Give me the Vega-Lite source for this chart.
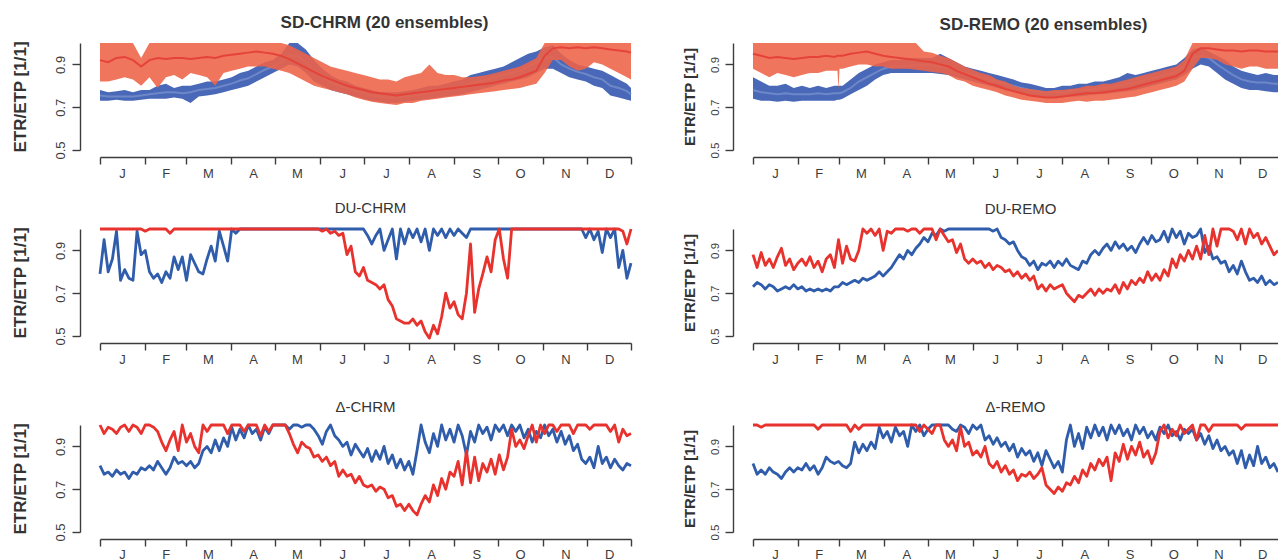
{
"$schema": "https://vega.github.io/schema/vega-lite/v6.json",
"background": "white",
"padding": {"left": 11, "top": 13, "right": 0, "bottom": 0},
"config": {
  "font": "Liberation Sans",
  "view": {"stroke": null},
  "title": {"font": "Liberation Sans", "color": "#333333", "baseline": "alphabetic", "anchor": "middle"},
  "axis": {"grid": false, "domainColor": "#3c3c3c", "tickColor": "#3c3c3c", "labelColor": "#3c3c3c", "titleColor": "#333333", "domainWidth": 1.4, "tickWidth": 1.4, "labelFont": "Liberation Sans", "titleFont": "Liberation Sans"},
  "axisX": {"offset": 7, "tickSize": 7, "labelPadding": 3, "labelFontSize": 13, "labelOverlap": false, "labelFlush": false, "labelBound": false, "labelAngle": 0},
  "axisY": {"offset": 20, "tickSize": 8, "labelAngle": -90, "labelAlign": "center", "labelBaseline": "bottom", "labelPadding": 5, "labelFontSize": 13, "titleFontSize": 17, "titleFontWeight": "bold", "titlePadding": 25, "labelOverlap": false}
},
"datasets": {
"tl": [
{"d":1,"bl":0.73,"bh":0.78,"bm":0.755,"rl":0.82,"rh":1,"rm":0.92},
{"d":6.6,"bl":0.73,"bh":0.77,"bm":0.75,"rl":0.82,"rh":1,"rm":0.91},
{"d":12.3,"bl":0.735,"bh":0.775,"bm":0.75,"rl":0.83,"rh":1,"rm":0.93},
{"d":17.9,"bl":0.73,"bh":0.78,"bm":0.75,"rl":0.84,"rh":1,"rm":0.935},
{"d":23.6,"bl":0.73,"bh":0.77,"bm":0.75,"rl":0.83,"rh":1,"rm":0.92},
{"d":29.2,"bl":0.735,"bh":0.78,"bm":0.755,"rl":0.8,"rh":0.93,"rm":0.89},
{"d":34.9,"bl":0.74,"bh":0.78,"bm":0.76,"rl":0.84,"rh":1,"rm":0.92},
{"d":40.5,"bl":0.74,"bh":0.8,"bm":0.765,"rl":0.79,"rh":1,"rm":0.93},
{"d":46.2,"bl":0.74,"bh":0.81,"bm":0.77,"rl":0.84,"rh":1,"rm":0.925},
{"d":51.8,"bl":0.745,"bh":0.79,"bm":0.77,"rl":0.85,"rh":1,"rm":0.93},
{"d":57.4,"bl":0.74,"bh":0.8,"bm":0.765,"rl":0.83,"rh":1,"rm":0.93},
{"d":63.1,"bl":0.72,"bh":0.8,"bm":0.77,"rl":0.86,"rh":1,"rm":0.925},
{"d":68.7,"bl":0.75,"bh":0.81,"bm":0.78,"rl":0.85,"rh":1,"rm":0.93},
{"d":74.4,"bl":0.755,"bh":0.82,"bm":0.785,"rl":0.84,"rh":1,"rm":0.935},
{"d":80,"bl":0.76,"bh":0.82,"bm":0.79,"rl":0.8,"rh":1,"rm":0.93},
{"d":85.7,"bl":0.77,"bh":0.83,"bm":0.8,"rl":0.86,"rh":1,"rm":0.94},
{"d":91.3,"bl":0.78,"bh":0.84,"bm":0.81,"rl":0.87,"rh":1,"rm":0.945},
{"d":96.9,"bl":0.79,"bh":0.86,"bm":0.825,"rl":0.88,"rh":1,"rm":0.95},
{"d":102.6,"bl":0.8,"bh":0.87,"bm":0.835,"rl":0.89,"rh":1,"rm":0.955},
{"d":108.2,"bl":0.82,"bh":0.89,"bm":0.855,"rl":0.89,"rh":1,"rm":0.96},
{"d":113.9,"bl":0.84,"bh":0.91,"bm":0.875,"rl":0.89,"rh":1,"rm":0.955},
{"d":119.5,"bl":0.86,"bh":0.92,"bm":0.89,"rl":0.88,"rh":1,"rm":0.95},
{"d":125.2,"bl":0.88,"bh":0.95,"bm":0.91,"rl":0.87,"rh":1,"rm":0.94},
{"d":130.8,"bl":0.9,"bh":1,"bm":0.94,"rl":0.86,"rh":0.99,"rm":0.925},
{"d":136.5,"bl":0.89,"bh":1,"bm":0.94,"rl":0.84,"rh":0.97,"rm":0.905},
{"d":142.1,"bl":0.86,"bh":0.97,"bm":0.91,"rl":0.82,"rh":0.95,"rm":0.885},
{"d":147.7,"bl":0.82,"bh":0.92,"bm":0.87,"rl":0.8,"rh":0.93,"rm":0.865},
{"d":153.4,"bl":0.8,"bh":0.88,"bm":0.84,"rl":0.79,"rh":0.91,"rm":0.845},
{"d":159,"bl":0.78,"bh":0.85,"bm":0.815,"rl":0.78,"rh":0.89,"rm":0.83},
{"d":164.7,"bl":0.77,"bh":0.83,"bm":0.8,"rl":0.77,"rh":0.88,"rm":0.815},
{"d":170.3,"bl":0.76,"bh":0.82,"bm":0.79,"rl":0.76,"rh":0.87,"rm":0.8},
{"d":176,"bl":0.75,"bh":0.8,"bm":0.775,"rl":0.745,"rh":0.86,"rm":0.79},
{"d":181.6,"bl":0.74,"bh":0.79,"bm":0.765,"rl":0.735,"rh":0.85,"rm":0.78},
{"d":187.3,"bl":0.73,"bh":0.78,"bm":0.755,"rl":0.725,"rh":0.84,"rm":0.77},
{"d":192.9,"bl":0.725,"bh":0.77,"bm":0.75,"rl":0.72,"rh":0.83,"rm":0.765},
{"d":198.5,"bl":0.72,"bh":0.77,"bm":0.745,"rl":0.715,"rh":0.83,"rm":0.76},
{"d":204.2,"bl":0.72,"bh":0.77,"bm":0.745,"rl":0.71,"rh":0.82,"rm":0.755},
{"d":209.8,"bl":0.725,"bh":0.775,"bm":0.75,"rl":0.72,"rh":0.84,"rm":0.76},
{"d":215.5,"bl":0.73,"bh":0.78,"bm":0.755,"rl":0.72,"rh":0.85,"rm":0.765},
{"d":221.1,"bl":0.735,"bh":0.79,"bm":0.76,"rl":0.73,"rh":0.86,"rm":0.77},
{"d":226.8,"bl":0.74,"bh":0.8,"bm":0.77,"rl":0.735,"rh":0.9,"rm":0.775},
{"d":232.4,"bl":0.745,"bh":0.8,"bm":0.775,"rl":0.74,"rh":0.86,"rm":0.78},
{"d":238,"bl":0.75,"bh":0.81,"bm":0.78,"rl":0.745,"rh":0.85,"rm":0.785},
{"d":243.7,"bl":0.755,"bh":0.82,"bm":0.79,"rl":0.75,"rh":0.85,"rm":0.79},
{"d":249.3,"bl":0.76,"bh":0.83,"bm":0.795,"rl":0.755,"rh":0.84,"rm":0.795},
{"d":255,"bl":0.77,"bh":0.85,"bm":0.81,"rl":0.76,"rh":0.84,"rm":0.8},
{"d":260.6,"bl":0.78,"bh":0.86,"bm":0.82,"rl":0.765,"rh":0.845,"rm":0.805},
{"d":266.3,"bl":0.79,"bh":0.87,"bm":0.83,"rl":0.77,"rh":0.85,"rm":0.81},
{"d":271.9,"bl":0.8,"bh":0.88,"bm":0.84,"rl":0.775,"rh":0.86,"rm":0.815},
{"d":277.6,"bl":0.81,"bh":0.89,"bm":0.85,"rl":0.78,"rh":0.87,"rm":0.825},
{"d":283.2,"bl":0.82,"bh":0.91,"bm":0.86,"rl":0.785,"rh":0.88,"rm":0.83},
{"d":288.8,"bl":0.83,"bh":0.93,"bm":0.87,"rl":0.79,"rh":0.89,"rm":0.84},
{"d":294.5,"bl":0.84,"bh":0.95,"bm":0.89,"rl":0.8,"rh":0.91,"rm":0.855},
{"d":300.1,"bl":0.86,"bh":0.96,"bm":0.91,"rl":0.81,"rh":0.93,"rm":0.87},
{"d":305.8,"bl":0.88,"bh":0.98,"bm":0.93,"rl":0.86,"rh":1,"rm":0.94},
{"d":311.4,"bl":0.88,"bh":0.99,"bm":0.935,"rl":0.92,"rh":1,"rm":0.975},
{"d":317.1,"bl":0.86,"bh":0.95,"bm":0.9,"rl":0.92,"rh":1,"rm":0.98},
{"d":322.7,"bl":0.84,"bh":0.92,"bm":0.88,"rl":0.89,"rh":1,"rm":0.975},
{"d":328.4,"bl":0.83,"bh":0.9,"bm":0.865,"rl":0.87,"rh":1,"rm":0.98},
{"d":334,"bl":0.82,"bh":0.89,"bm":0.855,"rl":0.88,"rh":1,"rm":0.975},
{"d":339.6,"bl":0.8,"bh":0.88,"bm":0.84,"rl":0.91,"rh":1,"rm":0.98},
{"d":345.3,"bl":0.79,"bh":0.87,"bm":0.83,"rl":0.9,"rh":1,"rm":0.975},
{"d":350.9,"bl":0.755,"bh":0.85,"bm":0.8,"rl":0.88,"rh":1,"rm":0.97},
{"d":356.6,"bl":0.745,"bh":0.83,"bm":0.79,"rl":0.86,"rh":1,"rm":0.965},
{"d":362.2,"bl":0.735,"bh":0.81,"bm":0.775,"rl":0.84,"rh":1,"rm":0.96},
{"d":365,"bl":0.73,"bh":0.79,"bm":0.76,"rl":0.83,"rh":1,"rm":0.955}
],
"tr": [
{"d":1,"bl":0.74,"bh":0.84,"bm":0.78,"rl":0.88,"rh":1,"rm":0.95},
{"d":6.6,"bl":0.73,"bh":0.82,"bm":0.77,"rl":0.86,"rh":1,"rm":0.94},
{"d":12.2,"bl":0.73,"bh":0.8,"bm":0.765,"rl":0.84,"rh":1,"rm":0.93},
{"d":17.7,"bl":0.725,"bh":0.8,"bm":0.76,"rl":0.86,"rh":1,"rm":0.935},
{"d":23.3,"bl":0.73,"bh":0.81,"bm":0.765,"rl":0.85,"rh":1,"rm":0.93},
{"d":28.9,"bl":0.725,"bh":0.79,"bm":0.76,"rl":0.84,"rh":1,"rm":0.925},
{"d":34.5,"bl":0.73,"bh":0.8,"bm":0.76,"rl":0.85,"rh":1,"rm":0.93},
{"d":40,"bl":0.73,"bh":0.79,"bm":0.76,"rl":0.86,"rh":1,"rm":0.935},
{"d":45.6,"bl":0.73,"bh":0.8,"bm":0.765,"rl":0.86,"rh":1,"rm":0.935},
{"d":51.2,"bl":0.73,"bh":0.79,"bm":0.76,"rl":0.87,"rh":1,"rm":0.94},
{"d":56.8,"bl":0.73,"bh":0.8,"bm":0.765,"rl":0.87,"rh":1,"rm":0.935},
{"d":58.9,"bl":0.735,"bh":0.8,"bm":0.765,"rl":0.87,"rh":1,"rm":0.94},
{"d":59.6,"bl":0.735,"bh":0.8,"bm":0.765,"rl":0.78,"rh":1,"rm":0.94},
{"d":60.3,"bl":0.735,"bh":0.8,"bm":0.765,"rl":0.88,"rh":1,"rm":0.94},
{"d":62.4,"bl":0.74,"bh":0.8,"bm":0.77,"rl":0.88,"rh":1,"rm":0.94},
{"d":67.9,"bl":0.76,"bh":0.83,"bm":0.79,"rl":0.89,"rh":1,"rm":0.95},
{"d":73.5,"bl":0.78,"bh":0.86,"bm":0.82,"rl":0.9,"rh":1,"rm":0.955},
{"d":79.1,"bl":0.8,"bh":0.88,"bm":0.84,"rl":0.9,"rh":1,"rm":0.96},
{"d":84.7,"bl":0.83,"bh":0.9,"bm":0.86,"rl":0.89,"rh":1,"rm":0.95},
{"d":90.2,"bl":0.85,"bh":0.91,"bm":0.88,"rl":0.89,"rh":1,"rm":0.94},
{"d":95.8,"bl":0.86,"bh":0.92,"bm":0.89,"rl":0.88,"rh":1,"rm":0.935},
{"d":101.4,"bl":0.86,"bh":0.92,"bm":0.89,"rl":0.88,"rh":1,"rm":0.93},
{"d":107,"bl":0.86,"bh":0.93,"bm":0.895,"rl":0.88,"rh":1,"rm":0.925},
{"d":112.6,"bl":0.86,"bh":0.93,"bm":0.895,"rl":0.875,"rh":1,"rm":0.92},
{"d":118.1,"bl":0.86,"bh":0.93,"bm":0.9,"rl":0.87,"rh":0.96,"rm":0.915},
{"d":123.7,"bl":0.86,"bh":0.93,"bm":0.895,"rl":0.865,"rh":0.955,"rm":0.91},
{"d":129.3,"bl":0.855,"bh":0.95,"bm":0.89,"rl":0.86,"rh":0.94,"rm":0.9},
{"d":134.9,"bl":0.85,"bh":0.93,"bm":0.885,"rl":0.85,"rh":0.93,"rm":0.89},
{"d":140.5,"bl":0.84,"bh":0.91,"bm":0.87,"rl":0.83,"rh":0.91,"rm":0.87},
{"d":146,"bl":0.83,"bh":0.89,"bm":0.86,"rl":0.82,"rh":0.89,"rm":0.855},
{"d":151.6,"bl":0.82,"bh":0.88,"bm":0.85,"rl":0.8,"rh":0.875,"rm":0.84},
{"d":157.2,"bl":0.81,"bh":0.87,"bm":0.84,"rl":0.79,"rh":0.86,"rm":0.825},
{"d":162.8,"bl":0.8,"bh":0.86,"bm":0.83,"rl":0.78,"rh":0.85,"rm":0.81},
{"d":168.3,"bl":0.79,"bh":0.85,"bm":0.82,"rl":0.77,"rh":0.83,"rm":0.8},
{"d":173.9,"bl":0.78,"bh":0.84,"bm":0.81,"rl":0.755,"rh":0.82,"rm":0.785},
{"d":179.5,"bl":0.77,"bh":0.83,"bm":0.8,"rl":0.745,"rh":0.8,"rm":0.775},
{"d":185.1,"bl":0.76,"bh":0.815,"bm":0.79,"rl":0.735,"rh":0.79,"rm":0.765},
{"d":190.7,"bl":0.755,"bh":0.81,"bm":0.78,"rl":0.73,"rh":0.785,"rm":0.755},
{"d":196.2,"bl":0.75,"bh":0.8,"bm":0.775,"rl":0.725,"rh":0.78,"rm":0.75},
{"d":201.8,"bl":0.745,"bh":0.79,"bm":0.77,"rl":0.72,"rh":0.775,"rm":0.745},
{"d":207.4,"bl":0.745,"bh":0.79,"bm":0.77,"rl":0.72,"rh":0.78,"rm":0.745},
{"d":213,"bl":0.745,"bh":0.8,"bm":0.77,"rl":0.72,"rh":0.78,"rm":0.75},
{"d":218.5,"bl":0.75,"bh":0.8,"bm":0.775,"rl":0.725,"rh":0.785,"rm":0.755},
{"d":224.1,"bl":0.75,"bh":0.81,"bm":0.78,"rl":0.73,"rh":0.79,"rm":0.76},
{"d":229.7,"bl":0.755,"bh":0.81,"bm":0.78,"rl":0.725,"rh":0.8,"rm":0.765},
{"d":235.3,"bl":0.76,"bh":0.82,"bm":0.785,"rl":0.73,"rh":0.8,"rm":0.765},
{"d":240.9,"bl":0.76,"bh":0.82,"bm":0.79,"rl":0.73,"rh":0.81,"rm":0.77},
{"d":246.4,"bl":0.765,"bh":0.83,"bm":0.795,"rl":0.735,"rh":0.81,"rm":0.775},
{"d":252,"bl":0.77,"bh":0.84,"bm":0.8,"rl":0.74,"rh":0.82,"rm":0.78},
{"d":257.6,"bl":0.775,"bh":0.86,"bm":0.81,"rl":0.745,"rh":0.83,"rm":0.785},
{"d":263.2,"bl":0.78,"bh":0.85,"bm":0.815,"rl":0.75,"rh":0.84,"rm":0.795},
{"d":268.7,"bl":0.79,"bh":0.86,"bm":0.825,"rl":0.76,"rh":0.85,"rm":0.805},
{"d":274.3,"bl":0.8,"bh":0.87,"bm":0.835,"rl":0.77,"rh":0.86,"rm":0.815},
{"d":279.9,"bl":0.81,"bh":0.88,"bm":0.845,"rl":0.78,"rh":0.87,"rm":0.825},
{"d":285.5,"bl":0.82,"bh":0.89,"bm":0.855,"rl":0.79,"rh":0.88,"rm":0.835},
{"d":291.1,"bl":0.83,"bh":0.9,"bm":0.865,"rl":0.8,"rh":0.89,"rm":0.845},
{"d":296.6,"bl":0.85,"bh":0.93,"bm":0.89,"rl":0.82,"rh":0.92,"rm":0.87},
{"d":302.2,"bl":0.88,"bh":0.97,"bm":0.93,"rl":0.88,"rh":1,"rm":0.95},
{"d":307.8,"bl":0.9,"bh":0.98,"bm":0.94,"rl":0.93,"rh":1,"rm":0.975},
{"d":313.4,"bl":0.89,"bh":0.96,"bm":0.93,"rl":0.93,"rh":1,"rm":0.975},
{"d":319,"bl":0.86,"bh":0.94,"bm":0.9,"rl":0.92,"rh":1,"rm":0.97},
{"d":324.5,"bl":0.83,"bh":0.92,"bm":0.875,"rl":0.9,"rh":1,"rm":0.965},
{"d":330.1,"bl":0.81,"bh":0.89,"bm":0.85,"rl":0.89,"rh":1,"rm":0.965},
{"d":335.7,"bl":0.79,"bh":0.87,"bm":0.83,"rl":0.88,"rh":1,"rm":0.96},
{"d":341.3,"bl":0.78,"bh":0.86,"bm":0.82,"rl":0.89,"rh":1,"rm":0.965},
{"d":346.8,"bl":0.78,"bh":0.85,"bm":0.815,"rl":0.89,"rh":1,"rm":0.965},
{"d":352.4,"bl":0.775,"bh":0.86,"bm":0.815,"rl":0.88,"rh":1,"rm":0.96},
{"d":358,"bl":0.77,"bh":0.85,"bm":0.81,"rl":0.88,"rh":1,"rm":0.96},
{"d":360.8,"bl":0.77,"bh":0.85,"bm":0.81,"rl":0.88,"rh":1,"rm":0.96}
],
"ml": [
{"d":1,"b":0.79,"r":1},{"d":3.8,"b":0.95,"r":1},{"d":6.6,"b":0.8,"r":1},{"d":9.5,"b":0.86,"r":1},{"d":12.3,"b":0.99,"r":1},
{"d":15.1,"b":0.76,"r":1},{"d":17.9,"b":0.81,"r":1},{"d":20.8,"b":0.77,"r":1},{"d":23.6,"b":0.76,"r":1},{"d":26.4,"b":0.99,"r":1},
{"d":29.2,"b":0.88,"r":1},{"d":32,"b":0.9,"r":0.99},{"d":34.9,"b":0.8,"r":1},{"d":37.7,"b":0.77,"r":1},{"d":40.5,"b":0.79,"r":1},
{"d":43.3,"b":0.75,"r":1},{"d":46.2,"b":0.8,"r":1},{"d":49,"b":0.77,"r":0.98},{"d":51.8,"b":0.87,"r":1},{"d":54.6,"b":0.81,"r":1},
{"d":57.4,"b":0.87,"r":1},{"d":60.3,"b":0.76,"r":1},{"d":63.1,"b":0.88,"r":1},{"d":65.9,"b":0.84,"r":1},{"d":68.7,"b":0.8,"r":1},
{"d":71.6,"b":0.79,"r":1},{"d":74.4,"b":0.86,"r":1},{"d":77.2,"b":0.92,"r":1},{"d":80,"b":0.85,"r":1},{"d":82.8,"b":0.99,"r":1},
{"d":85.7,"b":0.92,"r":1},{"d":88.5,"b":0.85,"r":1},{"d":91.3,"b":1,"r":1},{"d":94.1,"b":0.98,"r":1},{"d":96.9,"b":1,"r":1},
{"d":125.2,"b":1,"r":1},{"d":150.6,"b":1,"r":1},
{"d":153.4,"b":1,"r":0.99},{"d":156.2,"b":1,"r":1},{"d":159,"b":1,"r":0.98},{"d":161.9,"b":1,"r":0.99},{"d":164.7,"b":1,"r":0.97},
{"d":167.5,"b":1,"r":0.98},{"d":170.3,"b":1,"r":0.88},{"d":173.1,"b":1,"r":0.92},{"d":176,"b":1,"r":0.8},{"d":178.8,"b":1,"r":0.78},
{"d":181.6,"b":1,"r":0.82},{"d":184.4,"b":0.97,"r":0.76},{"d":187.3,"b":0.93,"r":0.75},{"d":190.1,"b":0.97,"r":0.74},{"d":192.9,"b":1,"r":0.72},
{"d":195.7,"b":0.9,"r":0.74},{"d":198.5,"b":0.95,"r":0.67},{"d":201.4,"b":1,"r":0.64},{"d":204.2,"b":0.86,"r":0.58},{"d":207,"b":1,"r":0.57},
{"d":209.8,"b":0.93,"r":0.56},{"d":212.7,"b":1,"r":0.56},{"d":215.5,"b":0.96,"r":0.58},{"d":218.3,"b":1,"r":0.55},{"d":221.1,"b":0.94,"r":0.57},
{"d":223.9,"b":1,"r":0.52},{"d":226.8,"b":0.9,"r":0.49},{"d":229.6,"b":1,"r":0.55},{"d":232.4,"b":0.97,"r":0.51},{"d":235.2,"b":1,"r":0.59},
{"d":238,"b":0.96,"r":0.7},{"d":240.9,"b":1,"r":0.63},{"d":243.7,"b":0.97,"r":0.66},{"d":246.5,"b":1,"r":0.6},{"d":249.3,"b":0.98,"r":0.58},
{"d":252.2,"b":0.96,"r":0.7},{"d":255,"b":1,"r":0.93},{"d":257.8,"b":1,"r":0.61},{"d":260.6,"b":1,"r":0.72},{"d":263.4,"b":1,"r":0.79},
{"d":266.3,"b":1,"r":0.87},{"d":269.1,"b":1,"r":0.8},{"d":271.9,"b":1,"r":0.95},{"d":274.7,"b":1,"r":1},{"d":277.6,"b":1,"r":0.86},
{"d":280.4,"b":1,"r":0.77},{"d":283.2,"b":1,"r":1},{"d":311.4,"b":1,"r":1},{"d":331.2,"b":1,"r":1},
{"d":334,"b":0.96,"r":1},{"d":336.8,"b":1,"r":1},{"d":339.6,"b":0.95,"r":1},{"d":342.5,"b":0.99,"r":1},{"d":345.3,"b":0.89,"r":1},
{"d":348.1,"b":1,"r":1},{"d":350.9,"b":0.96,"r":1},{"d":353.8,"b":1,"r":1},{"d":356.6,"b":0.82,"r":1},{"d":359.4,"b":0.9,"r":0.99},
{"d":362.2,"b":0.77,"r":0.93},{"d":365,"b":0.84,"r":1}
],
"mr": [
{"d":1,"b":0.73,"r":0.88},{"d":3.8,"b":0.75,"r":0.82},{"d":6.6,"b":0.74,"r":0.89},{"d":9.4,"b":0.72,"r":0.83},{"d":12.2,"b":0.74,"r":0.86},
{"d":14.9,"b":0.73,"r":0.82},{"d":17.7,"b":0.71,"r":0.87},{"d":20.5,"b":0.72,"r":0.91},{"d":23.3,"b":0.73,"r":0.83},{"d":26.1,"b":0.72,"r":0.86},
{"d":28.9,"b":0.74,"r":0.81},{"d":31.7,"b":0.72,"r":0.84},{"d":34.5,"b":0.73,"r":0.86},{"d":37.3,"b":0.71,"r":0.83},{"d":40,"b":0.72,"r":0.87},
{"d":42.8,"b":0.71,"r":0.82},{"d":45.6,"b":0.72,"r":0.85},{"d":48.4,"b":0.71,"r":0.8},{"d":51.2,"b":0.72,"r":0.86},{"d":54,"b":0.71,"r":0.88},
{"d":56.8,"b":0.73,"r":0.82},{"d":59.6,"b":0.73,"r":0.95},{"d":62.4,"b":0.75,"r":0.84},{"d":65.1,"b":0.74,"r":0.92},{"d":67.9,"b":0.75,"r":0.86},
{"d":70.7,"b":0.76,"r":0.85},{"d":73.5,"b":0.75,"r":0.9},{"d":76.3,"b":0.77,"r":1},{"d":79.1,"b":0.76,"r":0.98},{"d":81.9,"b":0.77,"r":1},
{"d":84.7,"b":0.78,"r":0.97},{"d":87.5,"b":0.8,"r":1},{"d":90.2,"b":0.78,"r":0.9},{"d":93,"b":0.8,"r":0.99},{"d":95.8,"b":0.82,"r":0.98},
{"d":98.6,"b":0.85,"r":1},{"d":101.4,"b":0.88,"r":1},{"d":104.2,"b":0.86,"r":1},{"d":107,"b":0.9,"r":0.99},{"d":109.8,"b":0.88,"r":1},
{"d":112.6,"b":0.91,"r":1},{"d":115.3,"b":0.93,"r":0.98},{"d":118.1,"b":0.96,"r":1},{"d":120.9,"b":0.94,"r":1},{"d":123.7,"b":0.98,"r":1},
{"d":126.5,"b":0.97,"r":0.95},{"d":129.3,"b":1,"r":1},{"d":132.1,"b":0.99,"r":0.97},{"d":134.9,"b":1,"r":0.94},{"d":137.7,"b":1,"r":0.95},
{"d":140.5,"b":1,"r":0.89},{"d":143.2,"b":1,"r":0.93},{"d":146,"b":1,"r":0.86},{"d":148.8,"b":1,"r":0.84},{"d":151.6,"b":1,"r":0.86},
{"d":154.4,"b":1,"r":0.84},{"d":157.2,"b":1,"r":0.85},{"d":160,"b":1,"r":0.82},{"d":162.8,"b":1,"r":0.84},{"d":165.6,"b":0.99,"r":0.81},
{"d":168.3,"b":1,"r":0.83},{"d":171.1,"b":0.96,"r":0.82},{"d":173.9,"b":0.95,"r":0.8},{"d":176.7,"b":0.93,"r":0.81},{"d":179.5,"b":0.94,"r":0.78},
{"d":182.3,"b":0.9,"r":0.8},{"d":185.1,"b":0.87,"r":0.77},{"d":187.9,"b":0.86,"r":0.79},{"d":190.7,"b":0.83,"r":0.76},{"d":193.4,"b":0.85,"r":0.78},
{"d":196.2,"b":0.81,"r":0.72},{"d":199,"b":0.84,"r":0.74},{"d":201.8,"b":0.83,"r":0.71},{"d":204.6,"b":0.85,"r":0.74},{"d":207.4,"b":0.82,"r":0.72},
{"d":210.2,"b":0.85,"r":0.73},{"d":213,"b":0.83,"r":0.74},{"d":215.8,"b":0.86,"r":0.7},{"d":218.5,"b":0.83,"r":0.68},{"d":221.3,"b":0.82,"r":0.66},
{"d":224.1,"b":0.81,"r":0.69},{"d":226.9,"b":0.85,"r":0.68},{"d":229.7,"b":0.84,"r":0.7},{"d":232.5,"b":0.88,"r":0.72},{"d":235.3,"b":0.9,"r":0.69},
{"d":238.1,"b":0.88,"r":0.72},{"d":240.9,"b":0.91,"r":0.7},{"d":243.6,"b":0.93,"r":0.72},{"d":246.4,"b":0.9,"r":0.71},{"d":249.2,"b":0.94,"r":0.74},
{"d":252,"b":0.91,"r":0.7},{"d":254.8,"b":0.93,"r":0.75},{"d":257.6,"b":0.9,"r":0.72},{"d":260.4,"b":0.92,"r":0.76},{"d":263.2,"b":0.89,"r":0.74},
{"d":266,"b":0.93,"r":0.77},{"d":268.7,"b":0.96,"r":0.75},{"d":271.5,"b":0.93,"r":0.8},{"d":274.3,"b":0.97,"r":0.76},{"d":277.1,"b":0.94,"r":0.79},
{"d":279.9,"b":0.95,"r":0.76},{"d":282.7,"b":0.99,"r":0.81},{"d":285.5,"b":0.94,"r":0.78},{"d":288.3,"b":1,"r":0.86},{"d":291.1,"b":0.96,"r":0.82},
{"d":293.8,"b":0.99,"r":0.88},{"d":296.6,"b":0.93,"r":0.85},{"d":299.4,"b":0.98,"r":0.9},{"d":302.2,"b":0.96,"r":0.86},{"d":305,"b":0.97,"r":0.92},
{"d":307.8,"b":1,"r":0.86},{"d":310.6,"b":0.89,"r":0.97},{"d":313.4,"b":0.92,"r":0.88},{"d":316.2,"b":0.86,"r":1},{"d":319,"b":0.87,"r":0.92},
{"d":321.7,"b":0.84,"r":1},{"d":324.5,"b":0.85,"r":1},{"d":327.3,"b":0.8,"r":1},{"d":330.1,"b":0.83,"r":0.99},{"d":332.9,"b":0.79,"r":0.95},
{"d":335.7,"b":0.85,"r":1},{"d":338.5,"b":0.8,"r":0.93},{"d":341.3,"b":0.76,"r":1},{"d":344.1,"b":0.77,"r":0.96},{"d":346.8,"b":0.75,"r":0.98},
{"d":349.6,"b":0.78,"r":0.93},{"d":352.4,"b":0.74,"r":0.96},{"d":355.2,"b":0.76,"r":0.92},{"d":358,"b":0.74,"r":0.88},{"d":360.8,"b":0.75,"r":0.9}
],
"bl": [
{"d":1,"b":0.81,"r":1},{"d":3.8,"b":0.77,"r":0.96},{"d":6.6,"b":0.78,"r":0.99},{"d":9.5,"b":0.76,"r":0.98},{"d":12.3,"b":0.79,"r":0.96},
{"d":15.1,"b":0.77,"r":0.99},{"d":17.9,"b":0.78,"r":1},{"d":20.8,"b":0.75,"r":0.97},{"d":23.6,"b":0.78,"r":1},{"d":26.4,"b":0.77,"r":0.99},
{"d":29.2,"b":0.8,"r":0.96},{"d":32,"b":0.79,"r":1},{"d":34.9,"b":0.81,"r":1},{"d":37.7,"b":0.79,"r":0.99},{"d":40.5,"b":0.83,"r":0.97},
{"d":43.3,"b":0.8,"r":0.92},{"d":46.2,"b":0.77,"r":0.88},{"d":49,"b":0.8,"r":0.93},{"d":51.8,"b":0.85,"r":0.97},{"d":54.6,"b":0.82,"r":0.88},
{"d":57.4,"b":0.83,"r":1},{"d":60.3,"b":0.81,"r":0.92},{"d":63.1,"b":0.83,"r":0.96},{"d":65.9,"b":0.8,"r":0.9},{"d":68.7,"b":0.82,"r":0.87},
{"d":71.6,"b":0.88,"r":1},{"d":74.4,"b":0.9,"r":0.97},{"d":77.2,"b":0.87,"r":1},{"d":80,"b":0.93,"r":1},{"d":82.8,"b":0.88,"r":1},
{"d":85.7,"b":0.94,"r":1},{"d":88.5,"b":0.9,"r":0.96},{"d":91.3,"b":0.99,"r":1},{"d":94.1,"b":0.93,"r":1},{"d":96.9,"b":0.98,"r":1},
{"d":99.8,"b":0.94,"r":0.97},{"d":102.6,"b":1,"r":1},{"d":105.4,"b":0.96,"r":1},{"d":108.2,"b":0.98,"r":1},{"d":111.1,"b":0.93,"r":0.95},
{"d":113.9,"b":0.99,"r":1},{"d":116.7,"b":0.96,"r":0.97},{"d":119.5,"b":1,"r":1},{"d":122.3,"b":1,"r":1},{"d":125.2,"b":1,"r":1},
{"d":128,"b":1,"r":1},{"d":130.8,"b":0.98,"r":0.96},{"d":133.6,"b":1,"r":0.91},{"d":136.5,"b":1,"r":0.87},{"d":139.3,"b":0.99,"r":0.92},
{"d":142.1,"b":1,"r":0.9},{"d":144.9,"b":1,"r":0.89},{"d":147.7,"b":0.98,"r":0.85},{"d":150.6,"b":0.95,"r":0.86},{"d":153.4,"b":0.91,"r":0.83},
{"d":156.2,"b":0.97,"r":0.85},{"d":159,"b":1,"r":0.81},{"d":161.9,"b":0.95,"r":0.83},{"d":164.7,"b":0.93,"r":0.76},{"d":167.5,"b":0.9,"r":0.79},
{"d":170.3,"b":0.92,"r":0.76},{"d":173.1,"b":0.86,"r":0.77},{"d":176,"b":0.91,"r":0.73},{"d":178.8,"b":0.88,"r":0.76},{"d":181.6,"b":0.85,"r":0.72},
{"d":184.4,"b":0.89,"r":0.71},{"d":187.3,"b":0.83,"r":0.72},{"d":190.1,"b":0.88,"r":0.69},{"d":192.9,"b":0.84,"r":0.71},{"d":195.7,"b":0.9,"r":0.7},
{"d":198.5,"b":0.82,"r":0.66},{"d":201.4,"b":0.86,"r":0.67},{"d":204.2,"b":0.8,"r":0.62},{"d":207,"b":0.84,"r":0.63},{"d":209.8,"b":0.79,"r":0.6},
{"d":212.7,"b":0.83,"r":0.63},{"d":215.5,"b":0.77,"r":0.6},{"d":218.3,"b":0.88,"r":0.58},{"d":221.1,"b":1,"r":0.63},{"d":223.9,"b":0.92,"r":0.67},
{"d":226.8,"b":0.87,"r":0.64},{"d":229.6,"b":0.96,"r":0.72},{"d":232.4,"b":0.9,"r":0.67},{"d":235.2,"b":1,"r":0.75},{"d":238,"b":0.93,"r":0.7},
{"d":240.9,"b":0.98,"r":0.78},{"d":243.7,"b":0.92,"r":0.76},{"d":246.5,"b":1,"r":0.83},{"d":249.3,"b":0.95,"r":0.72},{"d":252.2,"b":0.86,"r":0.88},
{"d":255,"b":0.97,"r":0.73},{"d":257.8,"b":0.92,"r":0.85},{"d":260.6,"b":1,"r":0.74},{"d":263.4,"b":0.96,"r":0.82},{"d":266.3,"b":0.99,"r":0.78},
{"d":269.1,"b":0.93,"r":0.84},{"d":271.9,"b":1,"r":0.77},{"d":274.7,"b":0.97,"r":0.86},{"d":277.6,"b":1,"r":0.79},{"d":280.4,"b":0.95,"r":0.85},
{"d":283.2,"b":1,"r":0.98},{"d":286,"b":0.97,"r":0.9},{"d":288.8,"b":1,"r":0.93},{"d":291.7,"b":0.94,"r":0.89},{"d":294.5,"b":0.98,"r":0.95},
{"d":297.3,"b":0.92,"r":1},{"d":300.1,"b":0.97,"r":0.92},{"d":303,"b":0.94,"r":1},{"d":305.8,"b":1,"r":0.96},{"d":308.6,"b":0.95,"r":1},
{"d":311.4,"b":0.98,"r":1},{"d":314.2,"b":0.92,"r":0.97},{"d":317.1,"b":0.97,"r":1},{"d":319.9,"b":0.91,"r":1},{"d":322.7,"b":0.95,"r":1},
{"d":325.5,"b":0.88,"r":0.96},{"d":328.4,"b":0.91,"r":1},{"d":331.2,"b":0.84,"r":1},{"d":334,"b":0.82,"r":1},{"d":336.8,"b":0.85,"r":0.98},
{"d":339.6,"b":0.8,"r":1},{"d":342.5,"b":0.9,"r":1},{"d":345.3,"b":0.82,"r":1},{"d":348.1,"b":0.85,"r":1},{"d":350.9,"b":0.8,"r":0.97},
{"d":353.8,"b":0.84,"r":1},{"d":356.6,"b":0.81,"r":0.92},{"d":359.4,"b":0.79,"r":0.98},{"d":362.2,"b":0.82,"r":0.95},{"d":365,"b":0.81,"r":0.96}
],
"br": [
{"d":1,"b":0.82,"r":1},{"d":3.8,"b":0.77,"r":1},{"d":6.6,"b":0.79,"r":0.99},{"d":9.4,"b":0.77,"r":1},{"d":12.2,"b":0.8,"r":1},
{"d":14.9,"b":0.78,"r":1},{"d":17.7,"b":0.77,"r":1},{"d":20.5,"b":0.75,"r":1},{"d":23.3,"b":0.78,"r":1},{"d":26.1,"b":0.8,"r":1},
{"d":28.9,"b":0.78,"r":1},{"d":31.7,"b":0.8,"r":1},{"d":34.5,"b":0.79,"r":1},{"d":37.3,"b":0.82,"r":1},{"d":40,"b":0.79,"r":1},
{"d":42.8,"b":0.81,"r":1},{"d":45.6,"b":0.77,"r":0.98},{"d":48.4,"b":0.8,"r":1},{"d":51.2,"b":0.85,"r":1},{"d":54,"b":0.83,"r":1},
{"d":56.8,"b":0.82,"r":1},{"d":59.6,"b":0.83,"r":1},{"d":62.4,"b":0.81,"r":1},{"d":65.1,"b":0.8,"r":1},{"d":67.9,"b":0.82,"r":0.97},
{"d":70.7,"b":0.92,"r":1},{"d":73.5,"b":0.87,"r":0.98},{"d":76.3,"b":0.91,"r":1},{"d":79.1,"b":0.88,"r":1},{"d":81.9,"b":0.92,"r":1},
{"d":84.7,"b":0.89,"r":1},{"d":87.5,"b":0.99,"r":1},{"d":90.2,"b":0.94,"r":1},{"d":93,"b":0.97,"r":1},{"d":95.8,"b":0.92,"r":1},
{"d":98.6,"b":0.99,"r":1},{"d":101.4,"b":0.95,"r":1},{"d":104.2,"b":0.97,"r":1},{"d":107,"b":0.9,"r":1},{"d":109.8,"b":1,"r":1},
{"d":112.6,"b":0.97,"r":1},{"d":115.3,"b":1,"r":0.97},{"d":118.1,"b":0.95,"r":1},{"d":120.9,"b":0.98,"r":0.98},{"d":123.7,"b":1,"r":0.96},
{"d":126.5,"b":1,"r":1},{"d":129.3,"b":1,"r":1},{"d":132.1,"b":1,"r":0.93},{"d":134.9,"b":1,"r":0.9},{"d":137.7,"b":0.98,"r":0.93},
{"d":140.5,"b":0.97,"r":0.88},{"d":143.2,"b":1,"r":0.99},{"d":146,"b":0.99,"r":0.9},{"d":148.8,"b":0.96,"r":0.92},{"d":151.6,"b":1,"r":0.86},
{"d":154.4,"b":0.98,"r":0.88},{"d":157.2,"b":1,"r":0.85},{"d":160,"b":0.93,"r":0.9},{"d":162.8,"b":0.95,"r":0.82},{"d":165.6,"b":0.91,"r":0.8},
{"d":168.3,"b":0.94,"r":0.83},{"d":171.1,"b":0.9,"r":0.78},{"d":173.9,"b":0.92,"r":0.81},{"d":176.7,"b":0.88,"r":0.77},{"d":179.5,"b":0.91,"r":0.79},
{"d":182.3,"b":0.85,"r":0.74},{"d":185.1,"b":0.89,"r":0.77},{"d":187.9,"b":0.86,"r":0.76},{"d":190.7,"b":0.88,"r":0.78},{"d":193.4,"b":0.83,"r":0.75},
{"d":196.2,"b":0.87,"r":0.77},{"d":199,"b":0.81,"r":0.8},{"d":201.8,"b":0.88,"r":0.72},{"d":204.6,"b":0.84,"r":0.7},{"d":207.4,"b":0.8,"r":0.68},
{"d":210.2,"b":0.83,"r":0.71},{"d":213,"b":0.78,"r":0.69},{"d":215.8,"b":0.93,"r":0.73},{"d":218.5,"b":1,"r":0.72},{"d":221.3,"b":0.9,"r":0.76},
{"d":224.1,"b":0.96,"r":0.73},{"d":226.9,"b":0.89,"r":0.79},{"d":229.7,"b":0.99,"r":0.76},{"d":232.5,"b":0.94,"r":0.82},{"d":235.3,"b":1,"r":0.79},
{"d":238.1,"b":0.95,"r":0.84},{"d":240.9,"b":0.99,"r":0.81},{"d":243.6,"b":0.93,"r":0.85},{"d":246.4,"b":1,"r":0.74},{"d":249.2,"b":0.96,"r":0.87},
{"d":252,"b":1,"r":0.83},{"d":254.8,"b":0.95,"r":0.91},{"d":257.6,"b":0.98,"r":0.84},{"d":260.4,"b":0.93,"r":0.9},{"d":263.2,"b":1,"r":0.86},
{"d":266,"b":0.96,"r":0.92},{"d":268.7,"b":0.99,"r":0.85},{"d":271.5,"b":0.94,"r":0.88},{"d":274.3,"b":0.97,"r":0.82},{"d":277.1,"b":0.93,"r":0.87},
{"d":279.9,"b":0.99,"r":0.97},{"d":282.7,"b":0.96,"r":1},{"d":285.5,"b":1,"r":0.94},{"d":288.3,"b":0.95,"r":0.98},{"d":291.1,"b":0.97,"r":0.95},
{"d":293.8,"b":0.93,"r":1},{"d":296.6,"b":0.98,"r":0.96},{"d":299.4,"b":0.96,"r":0.98},{"d":302.2,"b":0.98,"r":1},{"d":305,"b":0.93,"r":0.93},
{"d":307.8,"b":0.96,"r":1},{"d":310.6,"b":0.91,"r":1},{"d":313.4,"b":0.95,"r":0.97},{"d":316.2,"b":0.89,"r":1},{"d":319,"b":0.93,"r":1},
{"d":321.7,"b":0.88,"r":1},{"d":324.5,"b":0.9,"r":1},{"d":327.3,"b":0.86,"r":1},{"d":330.1,"b":0.88,"r":1},{"d":332.9,"b":0.82,"r":1},
{"d":335.7,"b":0.88,"r":0.98},{"d":338.5,"b":0.8,"r":1},{"d":341.3,"b":0.86,"r":1},{"d":344.1,"b":0.81,"r":1},{"d":346.8,"b":0.9,"r":1},
{"d":349.6,"b":0.82,"r":1},{"d":352.4,"b":0.85,"r":1},{"d":355.2,"b":0.8,"r":1},{"d":358,"b":0.82,"r":1},{"d":360.8,"b":0.78,"r":1}
]
},
"columns": 2,
"spacing": {"row": 79, "column": 122},
"bounds": "flush",
"concat": [
{
"width": 531, "height": 107,
"title": {"text": "SD-CHRM (20 ensembles)", "fontSize": 17, "fontWeight": "bold", "offset": 9, "dx": 19},
"data": {"name": "tl"},
"encoding": {"x": {"field": "d", "type": "quantitative", "scale": {"domain": [1, 365], "nice": false, "zero": false},
  "axis": {"title": null, "values": [1,16,32,46,60,75,91,106,121,136,152,167,182,197,213,228,244,259,274,289,305,320,335,350,365],
   "labelExpr": "indexof([16,46,75,106,136,167,197,228,259,289,320,350], datum.value) < 0 ? '' : substring('JFMAMJJASOND', indexof([16,46,75,106,136,167,197,228,259,289,320,350], datum.value), indexof([16,46,75,106,136,167,197,228,259,289,320,350], datum.value) + 1)",
   "tickOpacity": {"condition": {"test": "indexof([16,46,75,106,136,167,197,228,259,289,320,350], datum.value) >= 0", "value": 0}, "value": 1}}}},
"layer": [
 {"mark": {"type": "area", "color": "#4a68b8", "opacity": 1},
  "encoding": {"y": {"field": "bl", "type": "quantitative", "title": "ETR/ETP [1/1]", "scale": {"domain": [0.5, 1], "nice": false, "zero": false},
    "axis": {"title": "ETR/ETP [1/1]", "values": [0.5,0.6,0.7,0.8,0.9,1], "labelExpr": "(datum.value > 0.49 && datum.value < 0.51) || (datum.value > 0.69 && datum.value < 0.71) || (datum.value > 0.89 && datum.value < 0.91) ? format(datum.value, '.1f') : ''"}},
   "y2": {"field": "bh"}}},
 {"mark": {"type": "line", "color": "#6d87c8", "strokeWidth": 2},
  "encoding": {"y": {"field": "bm", "type": "quantitative", "title": "ETR/ETP [1/1]", "scale": {"domain": [0.5, 1], "nice": false, "zero": false}}}},
 {"mark": {"type": "area", "color": "#ee6247", "opacity": 0.88},
  "encoding": {"y": {"field": "rl", "type": "quantitative", "title": "ETR/ETP [1/1]", "scale": {"domain": [0.5, 1], "nice": false, "zero": false}}, "y2": {"field": "rh"}}},
 {"mark": {"type": "line", "color": "#e5433a", "strokeWidth": 2},
  "encoding": {"y": {"field": "rm", "type": "quantitative", "title": "ETR/ETP [1/1]", "scale": {"domain": [0.5, 1], "nice": false, "zero": false}}}}
]
},
{
"width": 525, "height": 107,
"title": {"text": "SD-REMO (20 ensembles)", "fontSize": 17, "fontWeight": "bold", "offset": 9, "dx": 28},
"data": {"name": "tr"},
"encoding": {"x": {"field": "d", "type": "quantitative", "scale": {"domain": [1, 360.8], "nice": false, "zero": false},
  "axis": {"title": null, "values": [1,16,32,46,60,75,91,106,121,136,152,167,182,197,213,228,244,259,274,289,305,320,335,350],
   "labelExpr": "indexof([16,46,75,106,136,167,197,228,259,289,320,350], datum.value) < 0 ? '' : substring('JFMAMJJASOND', indexof([16,46,75,106,136,167,197,228,259,289,320,350], datum.value), indexof([16,46,75,106,136,167,197,228,259,289,320,350], datum.value) + 1)",
   "tickOpacity": {"condition": {"test": "indexof([16,46,75,106,136,167,197,228,259,289,320,350], datum.value) >= 0", "value": 0}, "value": 1}}}},
"layer": [
 {"mark": {"type": "area", "color": "#4a68b8", "opacity": 1},
  "encoding": {"y": {"field": "bl", "type": "quantitative", "title": "ETR/ETP [1/1]", "scale": {"domain": [0.5, 1], "nice": false, "zero": false},
    "axis": {"title": "ETR/ETP [1/1]", "values": [0.5,0.6,0.7,0.8,0.9,1], "labelFontSize": 11.5, "titleFontSize": 15, "titlePadding": 12, "labelExpr": "(datum.value > 0.49 && datum.value < 0.51) || (datum.value > 0.69 && datum.value < 0.71) || (datum.value > 0.89 && datum.value < 0.91) ? format(datum.value, '.1f') : ''"}},
   "y2": {"field": "bh"}}},
 {"mark": {"type": "line", "color": "#6d87c8", "strokeWidth": 2},
  "encoding": {"y": {"field": "bm", "type": "quantitative", "title": "ETR/ETP [1/1]", "scale": {"domain": [0.5, 1], "nice": false, "zero": false}}}},
 {"mark": {"type": "area", "color": "#ee6247", "opacity": 0.88},
  "encoding": {"y": {"field": "rl", "type": "quantitative", "title": "ETR/ETP [1/1]", "scale": {"domain": [0.5, 1], "nice": false, "zero": false}}, "y2": {"field": "rh"}}},
 {"mark": {"type": "line", "color": "#e5433a", "strokeWidth": 2},
  "encoding": {"y": {"field": "rm", "type": "quantitative", "title": "ETR/ETP [1/1]", "scale": {"domain": [0.5, 1], "nice": false, "zero": false}}}}
]
},
{
"width": 531, "height": 107,
"title": {"text": "DU-CHRM", "fontSize": 15, "fontWeight": "normal", "offset": 11, "dx": 5},
"data": {"name": "ml"},
"encoding": {"x": {"field": "d", "type": "quantitative", "scale": {"domain": [1, 365], "nice": false, "zero": false},
  "axis": {"title": null, "values": [1,16,32,46,60,75,91,106,121,136,152,167,182,197,213,228,244,259,274,289,305,320,335,350,365],
   "labelExpr": "indexof([16,46,75,106,136,167,197,228,259,289,320,350], datum.value) < 0 ? '' : substring('JFMAMJJASOND', indexof([16,46,75,106,136,167,197,228,259,289,320,350], datum.value), indexof([16,46,75,106,136,167,197,228,259,289,320,350], datum.value) + 1)",
   "tickOpacity": {"condition": {"test": "indexof([16,46,75,106,136,167,197,228,259,289,320,350], datum.value) >= 0", "value": 0}, "value": 1}}}},
"layer": [
 {"mark": {"type": "line", "color": "#2f5dab", "strokeWidth": 2.8, "strokeJoin": "round"},
  "encoding": {"y": {"field": "b", "type": "quantitative", "title": "ETR/ETP [1/1]", "scale": {"domain": [0.5, 1], "nice": false, "zero": false},
    "axis": {"title": "ETR/ETP [1/1]", "values": [0.5,0.6,0.7,0.8,0.9,1], "labelExpr": "(datum.value > 0.49 && datum.value < 0.51) || (datum.value > 0.69 && datum.value < 0.71) || (datum.value > 0.89 && datum.value < 0.91) ? format(datum.value, '.1f') : ''"}}}},
 {"mark": {"type": "line", "color": "#e8322d", "strokeWidth": 2.8, "strokeJoin": "round"},
  "encoding": {"y": {"field": "r", "type": "quantitative", "title": "ETR/ETP [1/1]", "scale": {"domain": [0.5, 1], "nice": false, "zero": false}}}}
]
},
{
"width": 525, "height": 107,
"title": {"text": "DU-REMO", "fontSize": 15, "fontWeight": "normal", "offset": 11, "dx": 5},
"data": {"name": "mr"},
"encoding": {"x": {"field": "d", "type": "quantitative", "scale": {"domain": [1, 360.8], "nice": false, "zero": false},
  "axis": {"title": null, "values": [1,16,32,46,60,75,91,106,121,136,152,167,182,197,213,228,244,259,274,289,305,320,335,350],
   "labelExpr": "indexof([16,46,75,106,136,167,197,228,259,289,320,350], datum.value) < 0 ? '' : substring('JFMAMJJASOND', indexof([16,46,75,106,136,167,197,228,259,289,320,350], datum.value), indexof([16,46,75,106,136,167,197,228,259,289,320,350], datum.value) + 1)",
   "tickOpacity": {"condition": {"test": "indexof([16,46,75,106,136,167,197,228,259,289,320,350], datum.value) >= 0", "value": 0}, "value": 1}}}},
"layer": [
 {"mark": {"type": "line", "color": "#2f5dab", "strokeWidth": 2.8, "strokeJoin": "round"},
  "encoding": {"y": {"field": "b", "type": "quantitative", "title": "ETR/ETP [1/1]", "scale": {"domain": [0.5, 1], "nice": false, "zero": false},
    "axis": {"title": "ETR/ETP [1/1]", "values": [0.5,0.6,0.7,0.8,0.9,1], "labelFontSize": 11.5, "titleFontSize": 15, "titlePadding": 12, "labelExpr": "(datum.value > 0.49 && datum.value < 0.51) || (datum.value > 0.69 && datum.value < 0.71) || (datum.value > 0.89 && datum.value < 0.91) ? format(datum.value, '.1f') : ''"}}}},
 {"mark": {"type": "line", "color": "#e8322d", "strokeWidth": 2.8, "strokeJoin": "round"},
  "encoding": {"y": {"field": "r", "type": "quantitative", "title": "ETR/ETP [1/1]", "scale": {"domain": [0.5, 1], "nice": false, "zero": false}}}}
]
},
{
"width": 531, "height": 117,
"title": {"text": "Δ-CHRM", "fontSize": 15, "fontWeight": "normal", "offset": 0},
"data": {"name": "bl"},
"encoding": {"x": {"field": "d", "type": "quantitative", "scale": {"domain": [1, 365], "nice": false, "zero": false},
  "axis": {"title": null, "labelPadding": 2, "values": [1,16,32,46,60,75,91,106,121,136,152,167,182,197,213,228,244,259,274,289,305,320,335,350,365],
   "labelExpr": "indexof([16,46,75,106,136,167,197,228,259,289,320,350], datum.value) < 0 ? '' : substring('JFMAMJJASOND', indexof([16,46,75,106,136,167,197,228,259,289,320,350], datum.value), indexof([16,46,75,106,136,167,197,228,259,289,320,350], datum.value) + 1)",
   "tickOpacity": {"condition": {"test": "indexof([16,46,75,106,136,167,197,228,259,289,320,350], datum.value) >= 0", "value": 0}, "value": 1}}}},
"layer": [
 {"mark": {"type": "line", "color": "#2f5dab", "strokeWidth": 2.8, "strokeJoin": "round"},
  "encoding": {"y": {"field": "b", "type": "quantitative", "title": "ETR/ETP [1/1]", "scale": {"domain": [0.5, 1], "range": [117, 10], "nice": false, "zero": false},
    "axis": {"title": "ETR/ETP [1/1]", "values": [0.5,0.6,0.7,0.8,0.9,1], "labelExpr": "(datum.value > 0.49 && datum.value < 0.51) || (datum.value > 0.69 && datum.value < 0.71) || (datum.value > 0.89 && datum.value < 0.91) ? format(datum.value, '.1f') : ''"}}}},
 {"mark": {"type": "line", "color": "#e8322d", "strokeWidth": 2.8, "strokeJoin": "round"},
  "encoding": {"y": {"field": "r", "type": "quantitative", "title": "ETR/ETP [1/1]", "scale": {"domain": [0.5, 1], "range": [117, 10], "nice": false, "zero": false}}}}
]
},
{
"width": 525, "height": 117,
"title": {"text": "Δ-REMO", "fontSize": 15, "fontWeight": "normal", "offset": 0},
"data": {"name": "br"},
"encoding": {"x": {"field": "d", "type": "quantitative", "scale": {"domain": [1, 360.8], "nice": false, "zero": false},
  "axis": {"title": null, "labelPadding": 2, "values": [1,16,32,46,60,75,91,106,121,136,152,167,182,197,213,228,244,259,274,289,305,320,335,350],
   "labelExpr": "indexof([16,46,75,106,136,167,197,228,259,289,320,350], datum.value) < 0 ? '' : substring('JFMAMJJASOND', indexof([16,46,75,106,136,167,197,228,259,289,320,350], datum.value), indexof([16,46,75,106,136,167,197,228,259,289,320,350], datum.value) + 1)",
   "tickOpacity": {"condition": {"test": "indexof([16,46,75,106,136,167,197,228,259,289,320,350], datum.value) >= 0", "value": 0}, "value": 1}}}},
"layer": [
 {"mark": {"type": "line", "color": "#2f5dab", "strokeWidth": 2.8, "strokeJoin": "round"},
  "encoding": {"y": {"field": "b", "type": "quantitative", "title": "ETR/ETP [1/1]", "scale": {"domain": [0.5, 1], "range": [117, 10], "nice": false, "zero": false},
    "axis": {"title": "ETR/ETP [1/1]", "values": [0.5,0.6,0.7,0.8,0.9,1], "labelFontSize": 11.5, "titleFontSize": 15, "titlePadding": 12, "labelExpr": "(datum.value > 0.49 && datum.value < 0.51) || (datum.value > 0.69 && datum.value < 0.71) || (datum.value > 0.89 && datum.value < 0.91) ? format(datum.value, '.1f') : ''"}}}},
 {"mark": {"type": "line", "color": "#e8322d", "strokeWidth": 2.8, "strokeJoin": "round"},
  "encoding": {"y": {"field": "r", "type": "quantitative", "title": "ETR/ETP [1/1]", "scale": {"domain": [0.5, 1], "range": [117, 10], "nice": false, "zero": false}}}}
]
}
]
}
